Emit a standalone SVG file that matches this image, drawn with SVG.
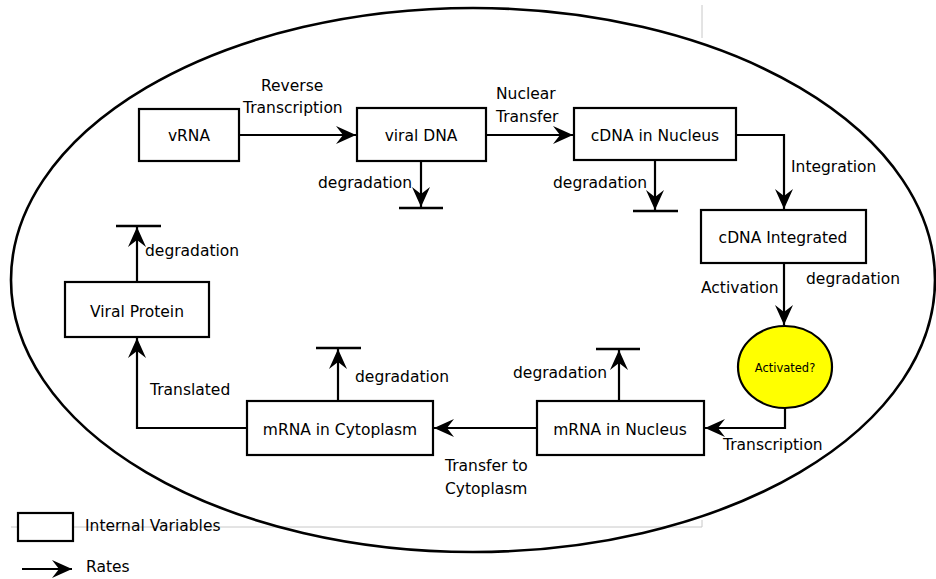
<svg xmlns="http://www.w3.org/2000/svg" width="936" height="579" viewBox="0 0 936 579">
<style>
text{font-family:"DejaVu Sans",Verdana,sans-serif;font-size:15.5px;fill:#000}
.lbl{text-anchor:middle}
.box{fill:#fff;stroke:#000;stroke-width:2.2}
.ln{fill:none;stroke:#000;stroke-width:2.2}
.arr{marker-end:url(#ah)}
.bar{stroke:#000;stroke-width:2.6}
.frame{stroke:#c8c8c8;stroke-width:1;fill:none}
</style>
<defs>
<marker id="ah" markerUnits="userSpaceOnUse" markerWidth="24" markerHeight="24" viewBox="-22 -11 24 22" refX="0" refY="0" orient="auto">
<path d="M0,0 L-20,-9 L-13,0 L-20,9 Z" fill="#000"/>
</marker>
</defs>
<rect width="936" height="579" fill="#fff"/>
<g id="frame">
<line class="frame" x1="702" y1="5" x2="702" y2="38"/>
<line class="frame" x1="11" y1="527" x2="702" y2="527"/>
<line class="frame" x1="702" y1="520" x2="702" y2="527"/>
</g>
<g id="cell">
<ellipse cx="473" cy="280" rx="462" ry="272" fill="none" stroke="#000" stroke-width="2.6"/>
</g>
<g id="connectors">
<line class="ln arr" x1="239" y1="135" x2="356" y2="135"/>
<line class="ln arr" x1="486" y1="135" x2="573" y2="135"/>
<path class="ln arr" d="M736,135 H784 V209"/>
<line class="ln arr" x1="784" y1="263" x2="784" y2="325"/>
<path class="ln arr" d="M785,408 V428 H705"/>
<line class="ln arr" x1="537" y1="428" x2="434" y2="428"/>
<path class="ln arr" d="M247,428 H137 V338"/>
<line class="ln arr" x1="421" y1="161" x2="421" y2="207"/>
<line class="bar" x1="399" y1="208" x2="443" y2="208"/>
<line class="ln arr" x1="655" y1="160" x2="655" y2="210"/>
<line class="bar" x1="633" y1="211" x2="678" y2="211"/>
<line class="ln arr" x1="619" y1="401" x2="619" y2="350"/>
<line class="bar" x1="596" y1="349" x2="640" y2="349"/>
<line class="ln arr" x1="338" y1="401" x2="338" y2="349"/>
<line class="bar" x1="316" y1="348" x2="361" y2="348"/>
<line class="ln arr" x1="137" y1="282" x2="137" y2="227"/>
<line class="bar" x1="116" y1="226" x2="161" y2="226"/>
</g>
<g id="rate-labels">
<text x="261" y="91">Reverse</text>
<text x="243" y="113">Transcription</text>
<text x="496" y="99">Nuclear</text>
<text x="496" y="122">Transfer</text>
<text x="318" y="188">degradation</text>
<text x="553" y="188">degradation</text>
<text x="791" y="172">Integration</text>
<text x="701" y="293">Activation</text>
<text x="806" y="284">degradation</text>
<text x="723" y="450">Transcription</text>
<text x="513" y="378">degradation</text>
<text x="355" y="382">degradation</text>
<text x="445" y="471">Transfer to</text>
<text x="445" y="494">Cytoplasm</text>
<text x="150" y="395">Translated</text>
<text x="145" y="256">degradation</text>
</g>
<g id="vRNA">
<rect class="box" x="139" y="109" width="100" height="52"/>
<text class="lbl" x="189" y="141">vRNA</text>
</g>
<g id="viralDNA">
<rect class="box" x="357" y="108" width="129" height="53"/>
<text class="lbl" x="421" y="141">viral DNA</text>
</g>
<g id="cDNAinNucleus">
<rect class="box" x="574" y="108" width="162" height="52"/>
<text class="lbl" x="655" y="141">cDNA in Nucleus</text>
</g>
<g id="cDNAIntegrated">
<rect class="box" x="701" y="210" width="165" height="53"/>
<text class="lbl" x="783" y="243">cDNA Integrated</text>
</g>
<g id="Activated">
<ellipse cx="785" cy="367" rx="47" ry="41" fill="#ffff00" stroke="#000" stroke-width="2.2"/>
<text class="lbl" x="785" y="372" style="font-size:11.5px">Activated?</text>
</g>
<g id="mRNAinNucleus">
<rect class="box" x="537" y="401" width="167" height="54"/>
<text class="lbl" x="620" y="435">mRNA in Nucleus</text>
</g>
<g id="mRNAinCytoplasm">
<rect class="box" x="247" y="401" width="186" height="54"/>
<text class="lbl" x="340" y="435">mRNA in Cytoplasm</text>
</g>
<g id="ViralProtein">
<rect class="box" x="65" y="282" width="144" height="55"/>
<text class="lbl" x="137" y="317">Viral Protein</text>
</g>
<g id="legend">
<rect class="box" x="18" y="513" width="55" height="28"/>
<text x="85" y="531">Internal Variables</text>
<line class="ln arr" x1="22" y1="569" x2="72" y2="569"/>
<text x="86" y="572">Rates</text>
</g>
</svg>
